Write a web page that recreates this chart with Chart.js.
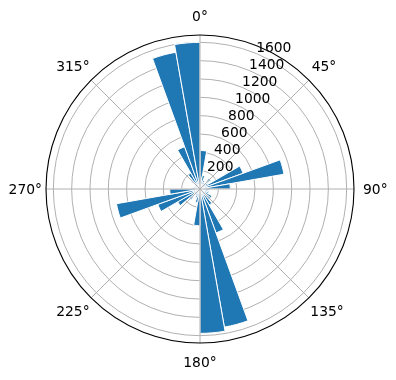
<!DOCTYPE html>
<html>
<head>
<meta charset="utf-8">
<script src="https://cdn.jsdelivr.net/npm/chart.js@4.4.0/dist/chart.umd.min.js"></script>
<style>
html,body{margin:0;padding:0;background:#fff;}
canvas{display:block;}
</style>
</head>
<body>
<canvas id="c" width="396" height="380"></canvas>
<script>
// Direction bins (start of each 10-degree bin, clockwise from north)
const directions = [0,10,20,30,40,50,60,70,80,90,100,110,120,130,140,150,160,170,
                    180,190,200,210,220,230,240,250,260,270,280,290,300,310,320,330,340,350];
// Counts per bin
const counts = [420,150,100,80,150,100,500,930,330,100,100,100,150,150,200,510,1530,1575,
                400,150,100,80,150,280,490,925,330,80,60,50,60,120,200,490,1515,1600];
// Radial tick labels
const radialTicks = [200,400,600,800,1000,1200,1400,1600];
// Angular tick labels
const angleTicks = [0,45,90,135,180,225,270,315];
const rMax = 1680;

const FONT = '13.89px "DejaVu Sans"';

const overlay = {
  id: 'overlay',
  afterDraw(chart) {
    const s = chart.scales.r;
    const ctx = chart.ctx;
    const xc = s.xCenter, yc = s.yCenter, R = s.getDistanceFromCenterForValue(rMax);
    ctx.save();
    // angular grid lines
    ctx.strokeStyle = '#b0b0b0';
    ctx.lineWidth = 1;
    angleTicks.forEach(a => {
      const t = a * Math.PI / 180;
      ctx.beginPath();
      ctx.moveTo(xc, yc);
      ctx.lineTo(xc + R * Math.sin(t), yc - R * Math.cos(t));
      ctx.stroke();
    });
    // outer spine
    ctx.strokeStyle = '#000';
    ctx.lineWidth = 1.1;
    ctx.beginPath();
    ctx.arc(xc, yc, R, 0, Math.PI * 2);
    ctx.stroke();
    // angle labels
    ctx.fillStyle = '#000';
    ctx.font = FONT;
    ctx.textAlign = 'center';
    ctx.textBaseline = 'middle';
    angleTicks.forEach(a => {
      const t = a * Math.PI / 180;
      const txt = a + '°';
      const w = ctx.measureText(txt).width;
      const dx = Math.sin(t), dy = -Math.cos(t);
      const pad = (a === 270) ? 4 : 9;
      const x = xc + dx * (R + pad) + dx * w / 2;
      const y = yc + dy * (R + pad) + dy * 10;
      ctx.fillText(txt, x, y + 1);
    });
    // radial labels along 22.5 deg
    ctx.textAlign = 'left';
    ctx.textBaseline = 'alphabetic';
    const ta = 22.5 * Math.PI / 180;
    radialTicks.forEach(v => {
      const r = s.getDistanceFromCenterForValue(v);
      ctx.fillText(String(v), xc + r * Math.sin(ta), yc - r * Math.cos(ta) - 1);
    });
    ctx.restore();
  }
};

new Chart(document.getElementById('c'), {
  type: 'polarArea',
  data: {
    labels: directions.map(d => d + '°'),
    datasets: [{
      data: counts,
      backgroundColor: '#1f77b4',
      borderColor: '#ffffff',
      borderWidth: 1
    }]
  },
  options: {
    responsive: false,
    animation: false,
    layout: { padding: { left: 46, right: 42, top: 35, bottom: 37 } },
    plugins: { legend: { display: false }, tooltip: { enabled: false } },
    scales: {
      r: {
        min: 0,
        max: rMax,
        startAngle: 0,
        z: 1,
        ticks: { display: false, stepSize: 200 },
        grid: {
          circular: true,
          color: ctx => (ctx.tick && ctx.tick.value >= rMax) ? 'rgba(0,0,0,0)' : '#b0b0b0',
          lineWidth: 1
        },
        angleLines: { display: false },
        pointLabels: { display: false }
      }
    }
  },
  plugins: [overlay]
});
</script>
</body>
</html>
